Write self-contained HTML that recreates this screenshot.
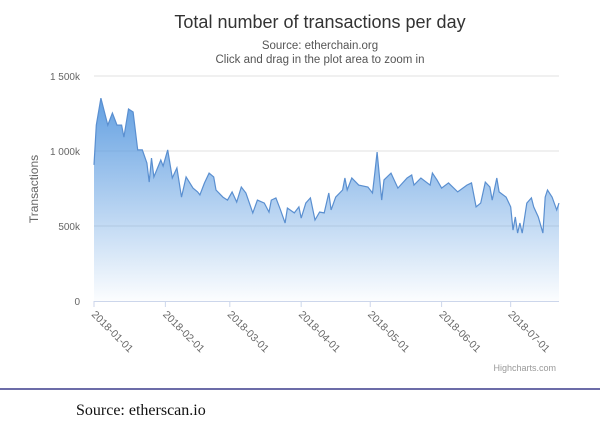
<!DOCTYPE html>
<html><head><meta charset="utf-8"><style>
html,body{margin:0;padding:0;background:#fff;width:600px;height:424px;overflow:hidden}
svg{display:block}
</style></head><body>
<svg id="chart" width="600" height="424" xmlns="http://www.w3.org/2000/svg" font-family="Liberation Sans, sans-serif">
<defs><linearGradient id="fillg" x1="0" y1="0" x2="0" y2="1">
<stop offset="0" stop-color="#5b9be0" stop-opacity="0.95"/>
<stop offset="1" stop-color="#5b9be0" stop-opacity="0.02"/></linearGradient></defs>
<text x="320" y="28" text-anchor="middle" font-size="18" fill="#333">Total number of transactions per day</text>
<text x="320" y="49" text-anchor="middle" font-size="11.5" fill="#555">Source: etherchain.org</text>
<text x="320" y="63" text-anchor="middle" font-size="11.5" fill="#555">Click and drag in the plot area to zoom in</text>
<text transform="translate(38,189) rotate(-90)" text-anchor="middle" font-size="12" fill="#666">Transactions</text>
<g id="grid"></g><g id="series"></g><g id="xaxis"></g>
<text x="556" y="371" text-anchor="end" font-size="9" fill="#999">Highcharts.com</text>
<line x1="0" y1="389" x2="600" y2="389" stroke="#3b3b8c" stroke-width="1.5"/>
<text x="76" y="415" font-family="Liberation Serif, serif" font-size="16" fill="#111">Source: etherscan.io</text>
</svg>
<script>
const days=[0,1,3,6,8,10,12,13,15,17,19,21,23,24,25,26,29,30,32,34,36,38,40,43,45,46,48,50,52,53,56,58,60,62,64,66,69,71,74,76,77,79,81,83,84,87,89,90,92,94,96,98,100,102,103,105,108,109,110,112,115,119,121,122,123,125,126,129,132,136,138,139,142,146,147,149,151,154,158,162,164,166,168,170,172,173,175,176,179,181,182,183,184,185,186,188,190,191,193,195,196,197,199,201,202];
const values=[907,1173,1353,1173,1253,1173,1173,1093,1280,1260,1007,1007,920,793,953,827,940,900,1007,820,887,693,827,753,727,707,787,853,827,740,693,673,727,660,760,720,587,673,653,593,673,687,607,520,620,587,627,553,653,687,540,593,587,720,607,693,740,820,740,820,773,760,720,853,993,673,807,853,753,820,840,773,820,773,853,807,753,787,727,773,787,627,653,793,760,673,820,727,693,627,473,560,453,520,453,653,687,627,560,453,693,740,693,607,653];
const yTicks=[0,500,1000,1500];
const yTickLabels=["0","500k","1 000k","1 500k"];
const xTickDays=[0,31,59,90,120,151,181];
const xTickLabels=["2018-01-01","2018-02-01","2018-03-01","2018-04-01","2018-05-01","2018-06-01","2018-07-01"];
const NS="http://www.w3.org/2000/svg";
const X0=94,X1=559,Y0=301,Y1=76;
const xs=d=>X0+(d-0)*(X1-X0)/202;
const ys=v=>Y0-v*(Y0-Y1)/1500;
function mk(tag,attrs,parent){const e=document.createElementNS(NS,tag);for(const k in attrs)e.setAttribute(k,attrs[k]);parent.appendChild(e);return e;}
const grid=document.getElementById('grid');
yTicks.forEach((t,i)=>{
  if(t>0){const l=mk('line',{x1:X0,x2:X1,y1:ys(t),y2:ys(t),stroke:'#e2e2e2'},grid);
  
  }
  const tx=mk('text',{x:80,y:ys(t)+4,'text-anchor':'end','font-size':'10',fill:'#666'},grid);
  tx.textContent=yTickLabels[i];
  
  
});
const ser=document.getElementById('series');
let d='M'+xs(days[0])+','+Y0;
days.forEach((dd,i)=>{d+=' L'+xs(dd).toFixed(1)+','+ys(values[i]).toFixed(1);});
const area=mk('path',{d:d+' L'+xs(days[days.length-1])+','+Y0+' Z',fill:'url(#fillg)'},ser);


let ld='';days.forEach((dd,i)=>{ld+=(i?' L':'M')+xs(dd).toFixed(1)+','+ys(values[i]).toFixed(1);});
const line=mk('path',{d:ld,fill:'none',stroke:'#5a8fd0','stroke-width':'1.2'},ser);


const xa=document.getElementById('xaxis');
const al=mk('line',{x1:X0,x2:X1,y1:Y0+0.5,y2:Y0+0.5,stroke:'#ccd6eb'},xa);


xTickDays.forEach((t,i)=>{
  const x=xs(t);
  const tk=mk('line',{x1:x,x2:x,y1:Y0,y2:Y0+6,stroke:'#ccd6eb'},xa);
  
  
  const tx=mk('text',{transform:'translate('+(x-3)+','+(Y0+14)+') rotate(45)','font-size':'10.5',fill:'#666'},xa);
  tx.textContent=xTickLabels[i];
  
  
});
</script>
</body></html>
